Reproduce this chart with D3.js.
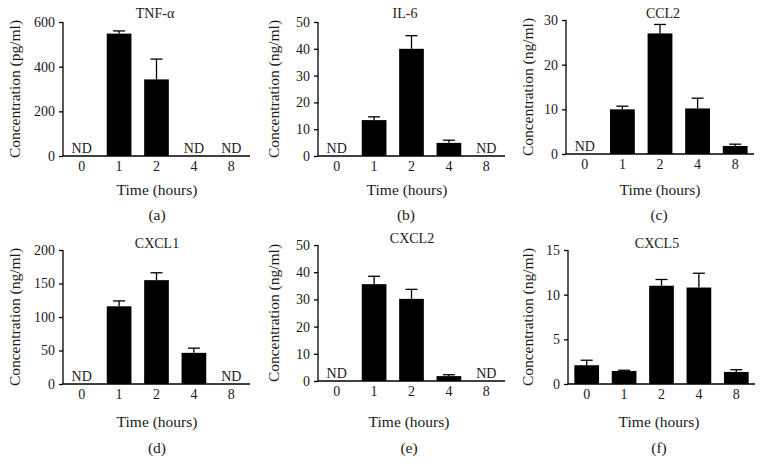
<!DOCTYPE html>
<html>
<head>
<meta charset="utf-8">
<script src="https://cdn.jsdelivr.net/npm/d3@7"></script>
<style>
  html, body { margin: 0; padding: 0; background: #fff; }
  svg { display: block; }
  text { font-family: "Liberation Serif", "Times New Roman", serif; fill: #1a1a1a; }
</style>
</head>
<body>
<svg id="chart" width="763" height="474"></svg>
<script>
// ---- data ----
const categories = ["0", "1", "2", "4", "8"];

const tnfMean   = [null, 548, 343, null, null];
const tnfSem    = [null, 12, 91, null, null];
const tnfTicks  = [0, 200, 400, 600];

const il6Mean   = [null, 13.4, 40.0, 4.9, null];
const il6Sem    = [null, 1.2, 4.9, 1.0, null];
const il6Ticks  = [0, 10, 20, 30, 40, 50];

const ccl2Mean  = [null, 10.0, 27.0, 10.2, 1.8];
const ccl2Sem   = [null, 0.7, 2.0, 2.3, 0.4];
const ccl2Ticks = [0, 10, 20, 30];

const cxcl1Mean  = [null, 116, 155, 46.5, null];
const cxcl1Sem   = [null, 8, 11, 7, null];
const cxcl1Ticks = [0, 50, 100, 150, 200];

const cxcl2Mean  = [null, 35.6, 30.2, 1.8, null];
const cxcl2Sem   = [null, 2.9, 3.5, 0.5, null];
const cxcl2Ticks = [0, 10, 20, 30, 40, 50];

const cxcl5Mean  = [2.1, 1.46, 11.0, 10.8, 1.35];
const cxcl5Sem   = [0.56, 0.08, 0.7, 1.6, 0.25];
const cxcl5Ticks = [0, 5, 10, 15];

const panels = [
  {title: "TNF-α", unit: "Concentration (pg/ml)", mean: tnfMean, sem: tnfSem, ticks: tnfTicks, tag: "(a)",
   x0: 63, x1: 250, yTop: 22, yBot: 156, tx: 155, ty: 18, lx: 157, ly: 195, sx: 157, sy: 220, ylx: 15},
  {title: "IL-6", unit: "Concentration (ng/ml)", mean: il6Mean, sem: il6Sem, ticks: il6Ticks, tag: "(b)",
   x0: 318, x1: 505, yTop: 22, yBot: 156, tx: 405, ty: 18, lx: 407, ly: 195, sx: 406, sy: 220, ylx: 274},
  {title: "CCL2", unit: "Concentration (ng/ml)", mean: ccl2Mean, sem: ccl2Sem, ticks: ccl2Ticks, tag: "(c)",
   x0: 566, x1: 754, yTop: 20, yBot: 154, tx: 663, ty: 18, lx: 660, ly: 195, sx: 659, sy: 220, ylx: 528},
  {title: "CXCL1", unit: "Concentration (ng/ml)", mean: cxcl1Mean, sem: cxcl1Sem, ticks: cxcl1Ticks, tag: "(d)",
   x0: 63, x1: 250, yTop: 250, yBot: 384, tx: 157, ty: 248, lx: 157, ly: 427, sx: 157, sy: 453, ylx: 15},
  {title: "CXCL2", unit: "Concentration (ng/ml)", mean: cxcl2Mean, sem: cxcl2Sem, ticks: cxcl2Ticks, tag: "(e)",
   x0: 318, x1: 505, yTop: 245, yBot: 381, tx: 412, ty: 243, lx: 409, ly: 427, sx: 409, sy: 453, ylx: 274},
  {title: "CXCL5", unit: "Concentration (ng/ml)", mean: cxcl5Mean, sem: cxcl5Sem, ticks: cxcl5Ticks, tag: "(f)",
   x0: 568, x1: 755, yTop: 250, yBot: 384, tx: 657, ty: 248, lx: 659, ly: 427, sx: 659, sy: 453, ylx: 528}
];

const svg = d3.select("#chart");
const FS_TICK = 14;
const FS_LABEL = 15.5;

panels.forEach(p => {
  const g = svg.append("g");
  const x = d3.scaleBand().domain(categories).range([p.x0, p.x1]).paddingInner(0.34).paddingOuter(0.17);
  const yMax = p.ticks[p.ticks.length - 1];
  const y = d3.scaleLinear().domain([0, yMax]).range([p.yBot, p.yTop]);

  const data = categories.map((c, i) => ({c, m: p.mean[i], s: p.sem[i]}));
  const present = data.filter(d => d.m !== null);

  // error bars (upward only)
  const capW = 12;
  present.forEach(d => {
    const cx = x(d.c) + x.bandwidth() / 2;
    g.append("line").attr("x1", cx).attr("x2", cx)
      .attr("y1", y(d.m)).attr("y2", y(d.m + d.s))
      .attr("stroke", "#000").attr("stroke-width", 1.3);
    g.append("line").attr("x1", cx - capW / 2).attr("x2", cx + capW / 2)
      .attr("y1", y(d.m + d.s)).attr("y2", y(d.m + d.s))
      .attr("stroke", "#000").attr("stroke-width", 1.3);
  });

  g.selectAll("rect.bar").data(present).enter().append("rect")
    .attr("class", "bar")
    .attr("x", d => x(d.c))
    .attr("width", x.bandwidth())
    .attr("y", d => y(d.m))
    .attr("height", d => y(0) - y(d.m))
    .attr("fill", "#000");

  // ND labels
  data.filter(d => d.m === null).forEach(d => {
    g.append("text").attr("x", x(d.c) + x.bandwidth() / 2).attr("y", p.yBot - 3)
      .attr("text-anchor", "middle").attr("font-size", FS_TICK).text("ND");
  });

  // y axis
  const yAxis = d3.axisLeft(y).tickValues(p.ticks).tickSize(4).tickPadding(4).tickFormat(d3.format("d"));
  const ya = g.append("g").attr("transform", `translate(${p.x0},0)`).call(yAxis);
  ya.attr("font-family", null);
  ya.select(".domain").attr("stroke", "#000").attr("stroke-width", 1.3)
    .attr("d", `M0,${p.yTop}V${p.yBot}`);
  ya.selectAll(".tick line").attr("stroke", "#000").attr("stroke-width", 1.3);
  ya.selectAll(".tick text").attr("font-size", FS_TICK).attr("fill", "#1a1a1a");

  // x axis
  const xAxis = d3.axisBottom(x).tickSize(0).tickPadding(5);
  const xa = g.append("g").attr("transform", `translate(0,${p.yBot})`).call(xAxis);
  xa.attr("font-family", null);
  xa.select(".domain").attr("stroke", "#000").attr("stroke-width", 1.3)
    .attr("d", `M${p.x0},0H${p.x1}`);
  xa.selectAll(".tick text").attr("font-size", FS_TICK).attr("fill", "#1a1a1a");

  // title
  g.append("text").attr("x", p.tx).attr("y", p.ty).attr("text-anchor", "middle")
    .attr("font-size", FS_TICK).text(p.title);
  // x label
  g.append("text").attr("x", p.lx).attr("y", p.ly).attr("text-anchor", "middle")
    .attr("font-size", FS_LABEL).text("Time (hours)");
  // panel tag
  g.append("text").attr("x", p.sx).attr("y", p.sy).attr("text-anchor", "middle")
    .attr("font-size", FS_LABEL).text(p.tag);
  // y label
  const cy = (p.yTop + p.yBot) / 2;
  g.append("text").attr("transform", `translate(${p.ylx + 5},${cy}) rotate(-90)`)
    .attr("text-anchor", "middle").attr("font-size", FS_LABEL).text(p.unit);
});
</script>
</body>
</html>
